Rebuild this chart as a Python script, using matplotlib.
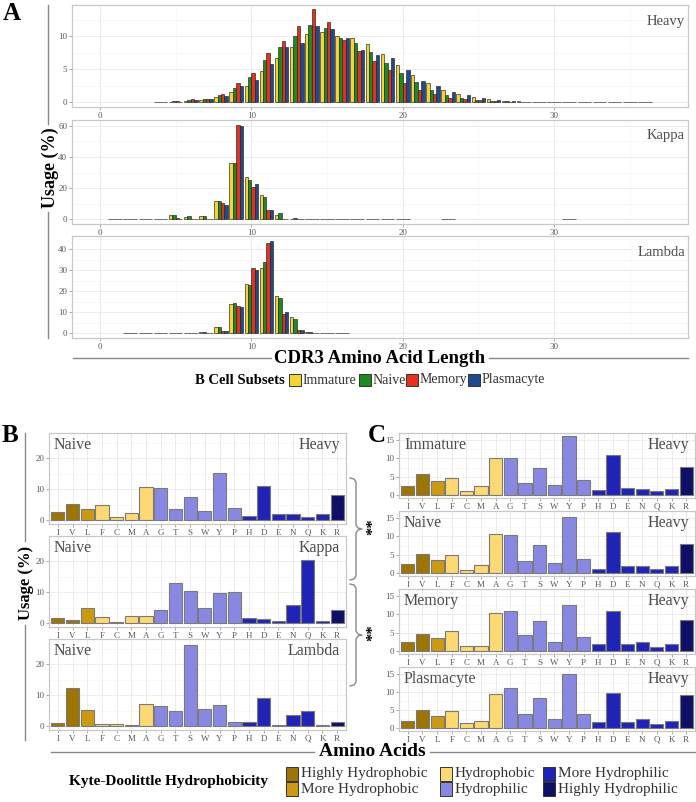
import matplotlib.pyplot as plt
import numpy as np
from matplotlib.patches import Rectangle
from matplotlib.lines import Line2D
from matplotlib.ticker import MultipleLocator

plt.rcParams['font.family'] = ['Liberation Serif', 'DejaVu Serif']

W, H = 696, 802

# ---- panel A: CDR3 length usage (%) per B cell subset ----
subsets = ['Immature', 'Naive', 'Memory', 'Plasmacyte']
subset_colors = ['#F5D432', '#1E8A1E', '#E2321F', '#1F4A8E']

heavy_len = [4, 5, 6, 7, 8, 9, 10, 11, 12, 13, 14, 15, 16, 17, 18, 19, 20,
             21, 22, 23, 24, 25, 26, 27, 28, 29, 30, 31, 32, 33, 34, 35, 36]
heavy_immature = [0.05, 0.05, 0.12, 0.3, 0.8, 1.5, 2.5, 4.7, 6.7, 8.4, 10.4, 10.7, 10.1, 9.7, 8.8, 7.3, 5.6,
                  4.1, 2.9, 1.9, 1.2, 0.75, 0.4, 0.2, 0.1, 0.05, 0.05, 0.05, 0.05, 0.05, 0.05, 0.05, 0.05]
heavy_naive = [0.05, 0.1, 0.3, 0.45, 1.1, 2.1, 3.8, 6.4, 8.3, 10.1, 11.7, 11.3, 9.8, 8.9, 7.6, 6.0, 4.4,
               3.1, 1.9, 1.1, 0.65, 0.35, 0.2, 0.1, 0.06, 0.04, 0.04, 0.04, 0.04, 0.04, 0.04, 0.04, 0.04]
heavy_memory = [0.05, 0.12, 0.45, 0.45, 1.2, 2.9, 4.4, 7.4, 9.3, 11.5, 14.1, 12.2, 9.5, 7.7, 6.2, 4.9, 2.9,
                1.9, 1.2, 0.65, 0.45, 0.25, 0.15, 0.08, 0.05, 0.04, 0.04, 0.04, 0.04, 0.04, 0.04, 0.04, 0.04]
heavy_plasma = [0.05, 0.08, 0.28, 0.4, 0.95, 2.5, 3.4, 5.8, 8.4, 8.9, 11.6, 11.1, 9.8, 7.9, 7.2, 6.7, 4.8,
                3.2, 2.4, 1.5, 1.1, 0.55, 0.3, 0.15, 0.08, 0.04, 0.04, 0.04, 0.04, 0.04, 0.04, 0.04, 0.04]

kappa_len = [1, 2, 3, 4, 5, 6, 7, 8, 9, 10, 11, 12, 13, 14, 15, 16, 17, 18, 19, 20, 23, 31]
kappa_immature = [0.1, 0.1, 0.1, 0.2, 2.5, 1.2, 2.0, 11.7, 36.1, 27.3, 15.5, 2.8, 0.5, 0.2, 0.1, 0.1,
                  0.1, 0.1, 0.1, 0.1, 0.1, 0.1]
kappa_naive = [0.1, 0.1, 0.1, 0.3, 2.7, 2.0, 2.2, 11.7, 36.0, 25.0, 14.5, 4.3, 0.9, 0.3, 0.1, 0.1,
               0.1, 0.1, 0.1, 0.1, 0.1, 0.1]
kappa_memory = [0.1, 0.1, 0.1, 0.1, 0.6, 0.5, 0.4, 10.4, 60.8, 21.0, 5.8, 0.5, 0.15, 0.1, 0.1, 0.1,
                0.1, 0.1, 0.1, 0.1, 0.1, 0.1]
kappa_plasma = [0.1, 0.1, 0.1, 0.1, 0.5, 0.4, 0.3, 9.3, 60.2, 23.0, 5.9, 0.4, 0.1, 0.1, 0.1, 0.1,
                0.1, 0.1, 0.1, 0.1, 0.1, 0.1]

lambda_len = [2, 3, 4, 5, 6, 7, 8, 9, 10, 11, 12, 13, 14, 15, 16]
lambda_immature = [0.1, 0.1, 0.15, 0.4, 0.3, 0.7, 3.0, 14.1, 23.5, 31.3, 18.0, 8.0, 0.8, 0.3, 0.1]
lambda_naive = [0.1, 0.1, 0.15, 0.4, 0.4, 0.6, 2.9, 14.4, 23.2, 33.8, 16.8, 6.8, 0.8, 0.3, 0.1]
lambda_memory = [0.1, 0.1, 0.1, 0.2, 0.1, 0.2, 1.2, 13.2, 31.1, 43.1, 9.4, 1.5, 0.2, 0.1, 0.1]
lambda_plasma = [0.1, 0.1, 0.1, 0.2, 0.1, 0.2, 0.9, 12.6, 30.0, 44.0, 10.3, 1.5, 0.1, 0.1, 0.1]

# ---- panels B/C: amino acid usage (%) ----
amino_acids = ['I', 'V', 'L', 'F', 'C', 'M', 'A', 'G', 'T', 'S',
               'W', 'Y', 'P', 'H', 'D', 'E', 'N', 'Q', 'K', 'R']
hydro_class = ['Highly Hydrophobic', 'Highly Hydrophobic', 'More Hydrophobic',
               'Hydrophobic', 'Hydrophobic', 'Hydrophobic', 'Hydrophobic',
               'Hydrophilic', 'Hydrophilic', 'Hydrophilic', 'Hydrophilic', 'Hydrophilic', 'Hydrophilic',
               'More Hydrophilic', 'More Hydrophilic', 'More Hydrophilic', 'More Hydrophilic',
               'More Hydrophilic', 'More Hydrophilic', 'Highly Hydrophilic']
class_colors = {
    'Highly Hydrophobic': '#9C7504',
    'More Hydrophobic': '#CC9A12',
    'Hydrophobic': '#FDD974',
    'Hydrophilic': '#8888E2',
    'More Hydrophilic': '#2024B6',
    'Highly Hydrophilic': '#0E0F66',
}

naive_heavy = [2.6, 5.3, 3.6, 5.0, 0.9, 2.1, 10.7, 10.4, 3.4, 7.6,
               2.8, 15.3, 3.9, 1.2, 11.2, 1.8, 1.8, 1.0, 1.8, 8.0]
naive_kappa = [1.5, 0.85, 5.0, 1.8, 0.3, 2.3, 2.4, 4.1, 12.9, 10.3,
               4.8, 9.9, 10.1, 1.5, 1.3, 0.6, 6.0, 20.4, 0.6, 4.3]
naive_lambda = [0.8, 12.5, 5.3, 0.65, 0.65, 0.3, 7.3, 6.5, 4.9, 26.5,
                5.4, 6.8, 1.3, 1.2, 9.2, 0.4, 3.4, 4.9, 0.2, 1.3]
immature_heavy = [2.6, 5.7, 3.7, 4.7, 1.1, 2.5, 10.0, 10.2, 3.4, 7.4,
                  2.8, 16.1, 4.1, 1.25, 10.8, 1.9, 1.7, 1.0, 1.6, 7.7]
memory_heavy = [2.4, 4.6, 3.6, 5.4, 1.3, 1.45, 10.3, 10.8, 4.3, 8.1,
                2.5, 12.5, 3.8, 2.0, 10.9, 2.0, 2.5, 1.2, 2.0, 8.4]
plasma_heavy = [2.1, 5.1, 3.4, 4.6, 1.45, 2.1, 9.5, 11.1, 3.9, 8.4,
                2.4, 14.9, 3.8, 1.8, 9.8, 1.7, 2.4, 1.1, 1.9, 9.1]

fig = plt.figure(figsize=(6.96, 8.02), dpi=100)


def add_ax(x0, y0, x1, y1):
    return fig.add_axes([x0 / W, 1 - y1 / H, (x1 - x0) / W, (y1 - y0) / H])


def ftext(x, y, s, **kw):
    fig.text(x / W, 1 - y / H, s, **kw)


def fline(xs, ys, **kw):
    fig.add_artist(Line2D([x / W for x in xs], [1 - y / H for y in ys], **kw))


def fbox(x, y, w, h, color):
    fig.add_artist(Rectangle((x / W, 1 - (y + h) / H), w / W, h / H, facecolor=color,
                             edgecolor='#333333', lw=0.7, transform=fig.transFigure))


def style_ax(ax):
    for sp in ax.spines.values():
        sp.set_color('#c8c8c8')
        sp.set_linewidth(0.9)
    ax.grid(which='major', color='#e9e9e9', lw=0.6)
    ax.grid(which='minor', color='#f3f3f3', lw=0.4)
    ax.set_axisbelow(True)
    ax.tick_params(which='both', length=2, width=0.5, color='#888888',
                   labelcolor='#5a5a5a', labelsize=6.5, pad=1.5)
    ax.tick_params(which='minor', length=0)


# ---- panel A ----
chains_A = [
    ('Heavy', heavy_len, [heavy_immature, heavy_naive, heavy_memory, heavy_plasma],
     (5, 107), (-0.75, 14.75), 5),
    ('Kappa', kappa_len, [kappa_immature, kappa_naive, kappa_memory, kappa_plasma],
     (120, 224), (-3.0, 63.8), 20),
    ('Lambda', lambda_len, [lambda_immature, lambda_naive, lambda_memory, lambda_plasma],
     (236, 338), (-2.2, 46.4), 10),
]
bw = 0.225
for name, lens, series, (top, bot), ylim, ystep in chains_A:
    ax = add_ax(72, top, 688, bot)
    style_ax(ax)
    x = np.array(lens, dtype=float)
    for i, vals in enumerate(series):
        ax.bar(x + (i - 1.5) * bw, vals, width=bw, color=subset_colors[i],
               edgecolor='#222222', lw=0.45)
    ax.set_xlim(-1.85, 38.85)
    ax.set_ylim(*ylim)
    ax.xaxis.set_major_locator(MultipleLocator(10))
    ax.xaxis.set_minor_locator(MultipleLocator(5))
    ax.yaxis.set_major_locator(MultipleLocator(ystep))
    ax.yaxis.set_minor_locator(MultipleLocator(ystep / 2))
    ftext(685, top + 16, name, ha='right', va='center', fontsize=10.5, color='#4d4d4d')

ftext(12, 14, 'A', ha='center', va='center', fontsize=18, fontweight='bold')
ftext(50, 168, 'Usage (%)', rotation=90, ha='center', va='center', fontsize=13, fontweight='bold')
fline([48, 48], [5, 124], color='#888888', lw=1)
fline([48, 48], [212, 338], color='#888888', lw=1)
ftext(380, 358, 'CDR3 Amino Acid Length', ha='center', va='center', fontsize=13.5, fontweight='bold')
fline([73, 271], [358, 358], color='#888888', lw=1)
fline([489, 688], [358, 358], color='#888888', lw=1)

ftext(195, 380, 'B Cell Subsets', ha='left', va='center', fontsize=10.5, fontweight='bold')
key_x = [289, 359, 406, 468]
for i, s in enumerate(subsets):
    fbox(key_x[i], 374, 12, 12, subset_colors[i])
    ftext(key_x[i] + 14, 380, s, ha='left', va='center', fontsize=10, color='#333333')

# ---- panels B and C ----
bar_colors = [class_colors[c] for c in hydro_class]
xpos = np.arange(len(amino_acids))


def aa_panel(x0, x1, top, bot, vals, left_lab, right_lab, ylim, major, minor):
    ax = add_ax(x0, top, x1, bot)
    style_ax(ax)
    ax.bar(xpos, vals, width=0.9, color=bar_colors, edgecolor='#7a7a7a', lw=0.8)
    ax.set_xlim(-0.6, 19.6)
    ax.set_ylim(*ylim)
    ax.set_xticks(xpos)
    ax.set_xticklabels(amino_acids)
    ax.tick_params(axis='x', labelsize=6.5)
    ax.yaxis.set_major_locator(MultipleLocator(major))
    ax.yaxis.set_minor_locator(MultipleLocator(minor))
    ftext(x0 + 5, top + 12, left_lab, ha='left', va='center', fontsize=11.5, color='#4d4d4d')
    ftext(x1 - 6, top + 12, right_lab, ha='right', va='center', fontsize=11.5, color='#4d4d4d')
    return ax


ylim_B = (-1.32, 28.3)
aa_panel(49, 346, 433, 524, naive_heavy, 'Naive', 'Heavy', ylim_B, 10, 5)
aa_panel(49, 346, 536, 627, naive_kappa, 'Naive', 'Kappa', ylim_B, 10, 5)
aa_panel(49, 346, 639, 730, naive_lambda, 'Naive', 'Lambda', ylim_B, 10, 5)

ylim_C = (-0.8, 16.9)
aa_panel(399, 695, 433, 498, immature_heavy, 'Immature', 'Heavy', ylim_C, 5, 2.5)
aa_panel(399, 695, 511, 576, naive_heavy, 'Naive', 'Heavy', ylim_C, 5, 2.5)
aa_panel(399, 695, 589, 654, memory_heavy, 'Memory', 'Heavy', ylim_C, 5, 2.5)
aa_panel(399, 695, 667, 731, plasma_heavy, 'Plasmacyte', 'Heavy', ylim_C, 5, 2.5)

ftext(10, 436, 'B', ha='center', va='center', fontsize=18, fontweight='bold')
ftext(377, 436, 'C', ha='center', va='center', fontsize=18, fontweight='bold')
ftext(26, 583, 'Usage (%)', rotation=90, ha='center', va='center', fontsize=12, fontweight='bold')
fline([25, 25], [433, 541], color='#888888', lw=1)
fline([25, 25], [625, 740], color='#888888', lw=1)

# significance braces between B and C
for ya, yb in [(478, 580), (584, 686)]:
    ym = (ya + yb) / 2
    fline([350, 354, 356, 356, 358, 362, 358, 356, 356, 354, 350],
          [ya, ya + 1, ya + 4, ym - 4, ym - 1, ym, ym + 1, ym + 4, yb - 4, yb - 1, yb],
          color='#8a8a8a', lw=1)
    ftext(373, ym - 2, '**', rotation=90, ha='center', va='center', fontsize=12, fontweight='bold')

ftext(372, 751, 'Amino Acids', ha='center', va='center', fontsize=14, fontweight='bold')
fline([51, 314], [752, 752], color='#888888', lw=1)
fline([430, 695], [752, 752], color='#888888', lw=1)

ftext(69, 782, 'Kyte-Doolittle Hydrophobicity', ha='left', va='center', fontsize=11, fontweight='bold')
legend_cols = [(286, ['Highly Hydrophobic', 'More Hydrophobic']),
               (440, ['Hydrophobic', 'Hydrophilic']),
               (543, ['More Hydrophilic', 'Highly Hydrophilic'])]
for kx, labs in legend_cols:
    for r, lab in enumerate(labs):
        ky = 767 + r * 15
        fbox(kx, ky, 12, 14, class_colors[lab])
        ftext(kx + 15, ky + 7, lab, ha='left', va='center', fontsize=11, color='#333333')

fig.savefig('out.png', dpi=100)
